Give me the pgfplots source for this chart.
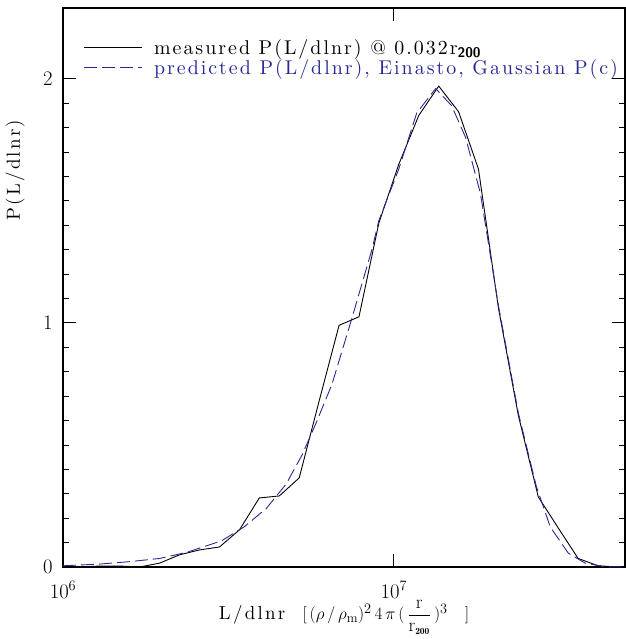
\documentclass[border=0pt]{standalone}
\usepackage{fontspec}
\usepackage{pgfplots}
\pgfplotsset{compat=1.18}
\definecolor{predblue}{RGB}{40,40,150}
\newfontfamily\wide{lmroman10-regular.otf}[LetterSpace=12]
\newfontfamily\legfont{lmroman10-regular.otf}[LetterSpace=10]
\begin{document}
\begin{tikzpicture}
\begin{axis}[
  scale only axis, width=562bp, height=559bp,
  xmode=log, log basis x=10,
  xmin=1e6, xmax=5e7, ymin=0, ymax=2.29,
  xtick={1e6,1e7}, ytick={0,1,2}, minor y tick num=9,
  major tick length=13bp, minor tick length=6bp,
  axis line style={line width=1.2pt},
  every tick/.style={black, line width=0.8pt},
  tick label style={font=\fontsize{20}{22}\selectfont},
  yticklabel style={xshift=-7bp},
  xticklabel style={yshift=-11bp},
  label style={font=\fontsize{19}{22}\selectfont\wide},
  xlabel={L/dlnr\ \ $\bigl[\,(\rho\,/\,\rho_{\mathrm{m}})^2\,4\,\pi\,(\,{\displaystyle\frac{\mathrm{r}}{\mathrm{r}_{\mathbf{\scriptscriptstyle 200}}}}\,)^3\ \ \bigr]$},
  ylabel={P(L/dlnr)},
  x label style={at={(axis description cs:0.5,0)}, anchor=center, yshift=-50bp},
  y label style={at={(axis description cs:-0.085,0.71)}, anchor=center},
  legend cell align=left,
  legend image code/.code={\draw[#1] (0bp,0bp) -- (58bp,0bp);},
  legend style={draw=none, fill=none, at={(axis description cs:0,1)}, anchor=north west,
    xshift=20bp, yshift=-29bp, font=\fontsize{20}{22}\selectfont\legfont, row sep=0bp,
    column sep=10bp, inner sep=0pt},
]
\addplot[black, line width=0.9pt] coordinates {
(1e6,0) (1.125e6,0) (1.292e6,0.004) (1.485e6,0.004) (1.706e6,0) (1.960e6,0.016)
(2.252e6,0.05) (2.587e6,0.07) (2.972e6,0.082) (3.414e6,0.152) (3.922e6,0.283)
(4.506e6,0.291) (5.176e6,0.365) (5.947e6,0.68) (6.831e6,0.99) (7.847e6,1.025)
(9.015e6,1.41) (1.0354e7,1.65) (1.190e7,1.85) (1.367e7,1.97) (1.570e7,1.865)
(1.803e7,1.63) (2.072e7,1.06) (2.380e7,0.62) (2.734e7,0.287) (3.141e7,0.16)
(3.608e7,0.035) (4.145e7,0.005) (4.762e7,0) (5e7,0)
};
\addlegendentry{measured P(L/dlnr) @ 0.032r\textsubscript{\textbf{\sffamily 200}}}
\addplot[predblue, line width=0.9pt, dash pattern=on 13bp off 5bp] coordinates {
(1e6,0.005) (1.292e6,0.012) (1.591e6,0.022) (1.960e6,0.035) (2.364e6,0.06)
(3.013e6,0.107) (3.533e6,0.165) (4.117e6,0.24) (4.728e6,0.34) (5.284e6,0.46)
(5.823e6,0.59) (6.508e6,0.75) (7.474e6,1.02) (8.586e6,1.30) (9.015e6,1.42)
(1.035e7,1.63) (1.173e7,1.86) (1.338e7,1.96) (1.495e7,1.89) (1.648e7,1.76)
(1.828e7,1.53) (2.072e7,1.07) (2.380e7,0.63) (2.697e7,0.33) (2.972e7,0.164)
(3.367e7,0.057) (3.787e7,0.016) (4.351e7,0.001) (5e7,0)
};
\addlegendentry{\textcolor{predblue}{predicted P(L/dlnr), Einasto, Gaussian P(c)}}
\end{axis}
\pgfresetboundingbox
\path[use as bounding box] ([xshift=-63bp,yshift=-72bp]current axis.south west) rectangle ([xshift=0.6bp,yshift=8bp]current axis.north east);
\end{tikzpicture}
\end{document}
